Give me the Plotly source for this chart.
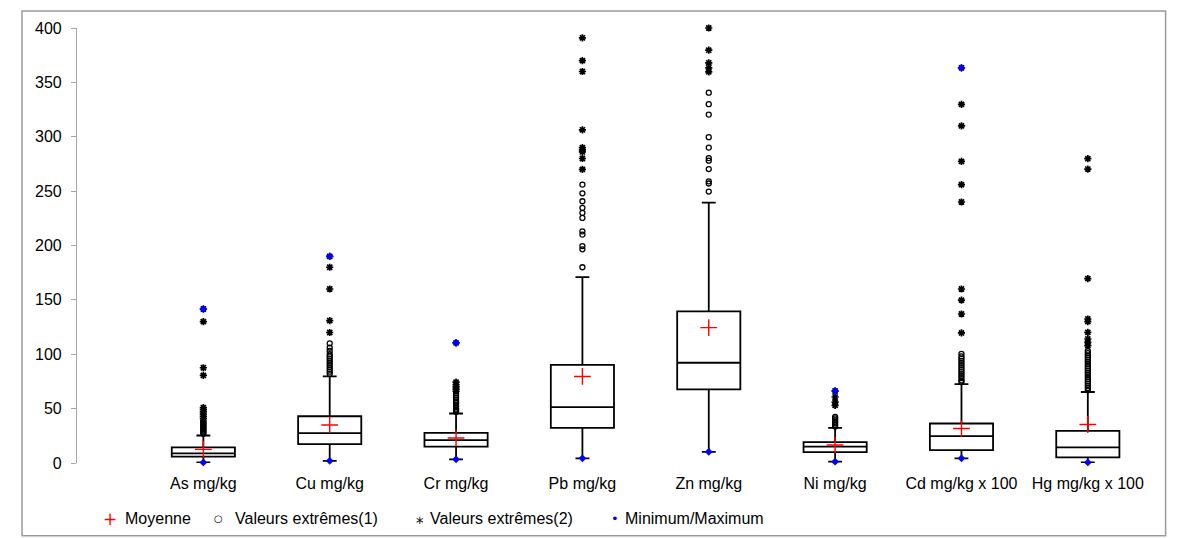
import plotly.graph_objects as go

categories = ["As mg/kg", "Cu mg/kg", "Cr mg/kg", "Pb mg/kg", "Zn mg/kg",
              "Ni mg/kg", "Cd mg/kg x 100", "Hg mg/kg x 100"]
q1 = [5.8, 17.4, 15.0, 32.3, 67.7, 10.0, 11.9, 5.2]
median = [8.9, 27.5, 21.0, 51.3, 92.2, 15.0, 24.7, 14.3]
q3 = [14.4, 43.0, 27.7, 90.3, 139.4, 19.2, 36.3, 29.6]
upper_whisker = [25.3, 79.6, 45.5, 171.0, 239.5, 32.3, 72.6, 65.3]
minimum = [0.5, 2.0, 3.4, 4.3, 10.3, 1.2, 4.3, 0.5]
maximum = [141.6, 190.0, 110.5, None, None, 66.2, 363.4, None]
mean = [12.5, 35.0, 23.0, 79.6, 124.5, 16.5, 31.7, 35.4]

outliers1 = [
    [27, 28, 29, 30, 31, 32, 33, 34, 35, 36, 37, 38, 39],
    [82, 84, 86, 88, 90, 92, 94, 96, 98, 100, 103, 106, 110],
    [47, 48, 49, 50, 52, 53, 55, 56, 58, 60, 62, 64],
    [180, 196.5, 199.5, 210, 213, 225.4, 230, 234.6, 240.7, 248, 256],
    [249.6, 257, 259, 270.3, 278, 280.4, 290, 299.6, 320.4, 330, 340.5],
    [33.5, 35, 36.5, 38, 39.5, 41, 42.4],
    [74.5, 76, 78, 80, 82, 84, 86, 88, 90, 92, 94, 96, 98, 100.4],
    [67, 69, 71, 73, 75, 77, 79, 81, 83, 85, 87, 89, 91, 93, 95, 97, 99, 101, 103],
]
outliers2 = [
    [41, 43, 45, 47, 49, 51, 80.5, 87.6, 130, 141.6],
    [120, 131, 160, 180, 190],
    [66, 68, 70, 72, 74.4, 110.5],
    [270, 280, 286, 288, 290, 306.4, 360, 370, 391],
    [359.7, 363.4, 368, 379.6, 400],
    [53, 56, 60.7, 66.2],
    [119.6, 137, 149.8, 160, 240, 256, 277.3, 310, 329.8, 363.4],
    [108, 111, 114, 120.2, 130, 132.4, 169.6, 270.3, 279.8],
]

legend_labels = ["Moyenne", "Valeurs extrêmes(1)", "Valeurs extrêmes(2)", "Minimum/Maximum"]

FONT = "Liberation Sans, Arial, sans-serif"
pos = list(range(len(categories)))

fig = go.Figure()

fig.add_trace(go.Box(
    x=pos, q1=q1, median=median, q3=q3,
    lowerfence=minimum, upperfence=upper_whisker,
    width=0.5, whiskerwidth=0.22, boxpoints=False,
    fillcolor="rgba(255,255,255,0)",
    line=dict(color="black", width=1.8),
    showlegend=False, hoverinfo="skip",
))

ox1, oy1, ox2, oy2 = [], [], [], []
for i, vals in enumerate(outliers1):
    ox1 += [i] * len(vals)
    oy1 += vals
for i, vals in enumerate(outliers2):
    ox2 += [i] * len(vals)
    oy2 += vals

fig.add_trace(go.Scatter(
    x=ox1, y=oy1, mode="markers", name=legend_labels[1],
    marker=dict(symbol="circle-open", size=5, color="black", line=dict(width=1.3)),
    cliponaxis=False, showlegend=False,
))
fig.add_trace(go.Scatter(
    x=ox2, y=oy2, mode="markers", name=legend_labels[2],
    marker=dict(symbol="asterisk-open", size=6, color="black", line=dict(width=1.7)),
    cliponaxis=False, showlegend=False,
))

mmx, mmy = [], []
for i in pos:
    mmx.append(i); mmy.append(minimum[i])
    if maximum[i] is not None:
        mmx.append(i); mmy.append(maximum[i])
fig.add_trace(go.Scatter(
    x=mmx, y=mmy, mode="markers", name=legend_labels[3],
    marker=dict(symbol="diamond", size=6, color="blue"),
    cliponaxis=False, showlegend=False,
))
fig.add_trace(go.Scatter(
    x=pos, y=mean, mode="markers", name=legend_labels[0],
    marker=dict(symbol="cross-thin-open", size=12, color="red", line=dict(width=1.4, color="red")),
    cliponaxis=False, showlegend=False,
))

# page is offset by the default 8px body margin
OFF = 8
W, H = 1175, 530
ml, mr, mt, mb = 69, 31.6, 18, 75
pw, ph = W - ml - mr, H - mt - mb

def px2paperx(px):
    return (px - OFF - ml) / pw

def px2papery(py):
    return (H - mb - (py - OFF)) / ph

# manual legend (symbol + text), positions in page pixels
leg_y = px2papery(519)
sym_specs = [("+", "red", 17, 110), ("○", "black", 10, 219), ("⁎", "black", 15, 420), ("•", "blue", 13, 615)]
text_x = [123, 233, 428, 623]
annotations = []
for (s, c, sz, sx), lab, tx in zip(sym_specs, legend_labels, text_x):
    annotations.append(dict(x=px2paperx(sx), y=leg_y, xref="paper", yref="paper",
                            text=s, showarrow=False, xanchor="center", yanchor="middle",
                            font=dict(family="DejaVu Sans, sans-serif", size=sz, color=c)))
    annotations.append(dict(x=px2paperx(tx), y=leg_y, xref="paper", yref="paper",
                            text=lab, showarrow=False, xanchor="left", yanchor="middle",
                            font=dict(family=FONT, size=16, color="black")))

fig.update_layout(
    width=W, height=H,
    margin=dict(l=ml, r=mr, t=mt, b=mb),
    paper_bgcolor="white", plot_bgcolor="white",
    font=dict(family=FONT, size=16, color="black"),
    showlegend=False,
    xaxis=dict(
        range=[-1, 7.5], tickvals=pos, ticktext=categories,
        showline=False, showgrid=False, zeroline=False, ticks="",
        tickfont=dict(size=16), ticklabelstandoff=9, fixedrange=True,
    ),
    yaxis=dict(
        range=[0, 400], tickvals=[0, 50, 100, 150, 200, 250, 300, 350, 400],
        showline=True, linecolor="#a6a6a6", linewidth=1.2,
        ticks="outside", ticklen=5, tickcolor="#a6a6a6", tickwidth=1.2,
        showgrid=False, zeroline=False, tickfont=dict(size=16),
        ticklabelstandoff=6,
    ),
    annotations=annotations,
    shapes=[dict(
        type="rect", xref="paper", yref="paper",
        x0=px2paperx(22), x1=px2paperx(1166), y0=px2papery(536), y1=px2papery(9),
        line=dict(color="#9a9a9a", width=1.5), fillcolor="rgba(0,0,0,0)", layer="below",
    )],
)

fig.write_html("out.html")
